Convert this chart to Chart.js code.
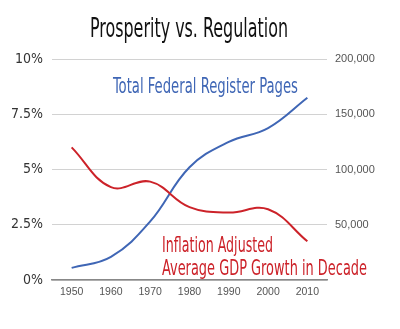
<!DOCTYPE html>
<html>
<head>
<meta charset="utf-8">
<script src="https://cdn.jsdelivr.net/npm/chart.js@4/dist/chart.umd.min.js"></script>
<style>
  html, body { margin: 0; padding: 0; background: #fff; }
  #wrap { width: 400px; height: 329px; }
</style>
</head>
<body>
<div id="wrap"><canvas id="chart" width="400" height="329"></canvas></div>
<script>
const years = ['1950', '1960', '1970', '1980', '1990', '2000', '2010'];
const gdpGrowth = [6.0, 4.2, 4.45, 3.3, 3.05, 3.2, 1.75];
const registerPages = [11000, 21000, 53000, 102000, 125000, 137500, 165000];
const leftTicks = [0, 2.5, 5, 7.5, 10];
const rightTicks = [50000, 100000, 150000, 200000];

const NARROW = "'Liberation Sans Narrow', 'DejaVu Sans Condensed', sans-serif";
const BLUE = '#3f66b5';
const RED = '#cc2229';

// labels drawn on the canvas, squeezed to the width they take in the picture
const labels = [
  { text: 'Prosperity vs. Regulation', x: 90, y: 37, size: 26, w: 198, color: '#111' },
  { text: 'Total Federal Register Pages', x: 113, y: 93, size: 22, w: 185, color: BLUE },
  { text: 'Inflation Adjusted', x: 162, y: 252, size: 21, w: 111, color: RED },
  { text: 'Average GDP Growth in Decade', x: 162, y: 275, size: 21, w: 205, color: RED }
];

const textPlugin = {
  id: 'squeezedText',
  afterDraw(chart) {
    const ctx = chart.ctx;
    labels.forEach(l => {
      ctx.save();
      ctx.font = `${l.size}px ${NARROW}`;
      ctx.fillStyle = l.color;
      ctx.textBaseline = 'alphabetic';
      const natural = ctx.measureText(l.text).width;
      ctx.translate(l.x, l.y);
      ctx.scale(l.w / natural, 1);
      ctx.fillText(l.text, 0, 0);
      ctx.restore();
    });
  }
};

new Chart(document.getElementById('chart'), {
  type: 'line',
  data: {
    labels: years,
    datasets: [
      {
        label: 'Inflation Adjusted Average GDP Growth in Decade',
        data: gdpGrowth,
        yAxisID: 'yLeft',
        borderColor: RED,
        borderWidth: 2,
        pointRadius: 0,
        tension: 0.4,
        fill: false
      },
      {
        label: 'Total Federal Register Pages',
        data: registerPages,
        yAxisID: 'yRight',
        borderColor: BLUE,
        borderWidth: 2,
        pointRadius: 0,
        tension: 0.4,
        fill: false
      }
    ]
  },
  options: {
    responsive: false,
    animation: false,
    layout: { padding: { top: 59, left: 0, right: 0, bottom: 0 } },
    plugins: {
      legend: { display: false },
      title: { display: false },
      tooltip: { enabled: false }
    },
    scales: {
      x: {
        offset: true,
        grid: { display: false, drawTicks: false },
        border: { display: true, color: '#888', width: 1.5 },
        ticks: { color: '#555', font: { family: 'Liberation Sans, Arial, sans-serif', size: 10.5 }, padding: 6 },
        afterFit(scale) { scale.height = 49; }
      },
      yLeft: {
        position: 'left',
        min: 0,
        max: 10,
        afterBuildTicks(scale) { scale.ticks = leftTicks.map(v => ({ value: v })); },
        grid: { color: '#d2d2d2', drawTicks: false },
        border: { display: false },
        ticks: {
          color: '#333',
          font: { family: NARROW, size: 14 },
          padding: 9,
          callback: v => v + '%'
        },
        afterFit(scale) { scale.width = 52; }
      },
      yRight: {
        position: 'right',
        min: 0,
        max: 200000,
        afterBuildTicks(scale) { scale.ticks = rightTicks.map(v => ({ value: v })); },
        grid: { display: false, drawTicks: false },
        border: { display: false },
        ticks: {
          color: '#555',
          font: { family: 'Liberation Sans, Arial, sans-serif', size: 11 },
          padding: 8,
          callback: v => v.toLocaleString('en-US')
        },
        afterFit(scale) { scale.width = 73; }
      }
    }
  },
  plugins: [textPlugin]
});
</script>
</body>
</html>
